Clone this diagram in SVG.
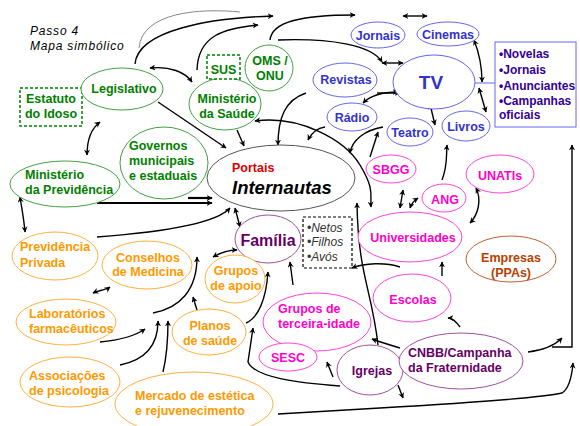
<svg xmlns="http://www.w3.org/2000/svg" width="580" height="426" viewBox="0 0 580 426">
<defs>
<marker id="ah" viewBox="0 0 10 10" refX="9" refY="5" markerWidth="6" markerHeight="6" orient="auto-start-reverse" markerUnits="userSpaceOnUse">
<path d="M0,0 L10,5 L0,10 L3,5 z" fill="#000"/>
</marker>
<style>
text{font-family:"Liberation Sans",Arial,sans-serif;font-weight:bold;font-size:12.5px}
.c{fill:none;stroke:#000;stroke-width:1.4}
.e{marker-end:url(#ah)}
.d{marker-start:url(#ah);marker-end:url(#ah)}
.g ellipse{fill:#fff;stroke:#44a044}
.g text{fill:#008000}
.b ellipse{fill:#fff;stroke:#6666ee}
.b text{fill:#3333cc}
.o ellipse{fill:#fff;stroke:#ffb040}
.o text{fill:#ff9900}
.m ellipse{fill:#fff;stroke:#ff44dd}
.m text{fill:#ff00cc}
.p ellipse{fill:#fff;stroke:#a050a0}
.p text{fill:#660066}
.mid{text-anchor:middle}
.it{font-weight:normal;font-style:italic;font-size:12px}
</style>
</defs>
<rect width="580" height="426" fill="#fff"/>
<g id="title">
<text x="30" y="35" class="it" style="letter-spacing:0.8px" fill="#000">Passo 4</text>
<text x="30" y="50" class="it" style="letter-spacing:0.8px" fill="#000">Mapa simbólico</text>
</g>
<g id="connectors">
<path class="c" d="M139,48 C142,12 200,8 240,12" style="stroke:#888;stroke-width:1"/>
<path class="c e" d="M135,64 C138,30 210,18 273,16"/>
<path class="c e" d="M197,70 C198,35 225,28 258,25"/>
<path class="c d" d="M150,68 C170,66 185,72 192,82"/>
<path class="c e" d="M270,40 C272,22 300,15 355,15"/>
<path class="c e" d="M278,40 C330,38 372,45 382,62"/>
<path class="c d" d="M382,63 L403,63"/>
<path class="c d" d="M403,16 L427,16"/>
<path class="c e" d="M377,93 L400,93"/>
<path class="c d" d="M363,103 C372,94 385,92 398,92"/>
<path class="c d" d="M474,40 C480,55 482,70 482,82"/>
<path class="c d" d="M479,88 L486,112"/>
<path d="M475,83 L495,83" stroke="#6666ee" stroke-width="1" fill="none"/>
<path class="c d" d="M430,104 L435,125"/>
<path class="c e" d="M158,102 L226,148"/>
<path class="c e" d="M237,130 L244,146"/>
<path class="c e" d="M306,93 C285,100 278,118 278,145"/>
<path class="c e" d="M325,127 C318,128 312,132 308,140"/>
<path class="c e" d="M383,127 C365,130 352,140 350,153"/>
<path class="c e" d="M370,157 L378,132"/>
<path class="c d" d="M255,121 C300,115 345,140 360,165 S370,195 371,207"/>
<path class="c e" d="M97,203 L212,203" style="stroke-width:2.2"/>
<path class="c e" d="M188,198 L212,198" style="stroke-width:2.2"/>
<path class="c e" d="M97,237 C150,233 215,225 230,208"/>
<path class="c d" d="M235,208 L240,227"/>
<path class="c d" d="M213,257 C220,253 230,250 237,250"/>
<path class="c e" d="M340,386 C300,383 255,378 248,362 L253,328"/>
<path class="c e" d="M246,323 C258,318 266,300 268,272"/>
<path class="c e" d="M293,285 L290,262"/>
<path class="c e" d="M378,345 C372,290 358,275 357,203"/>
<path class="c e" d="M400,267 C385,262 365,263 352,268"/>
<path class="c e" d="M400,348 C390,345 380,342 372,339"/>
<path class="c e" d="M442,180 C448,165 446,155 447,145"/>
<path class="c d" d="M403,190 L400,208"/>
<path class="c d" d="M410,208 C412,202 415,200 418,198"/>
<path class="c d" d="M476,188 C482,200 478,215 470,223"/>
<path class="c e" d="M442,276 L442,262"/>
<path class="c e" d="M460,327 C455,320 452,318 448,318"/>
<path class="c e" d="M398,385 L403,398"/>
<path class="c e" d="M333,377 L327,362"/>
<path class="c e" d="M197,310 L193,297"/>
<path class="c e" d="M153,313 C180,308 197,290 197,257"/>
<path class="c e" d="M120,365 C145,360 158,345 158,321"/>
<path class="c e" d="M163,372 C167,355 168,340 168,321"/>
<path class="c e" d="M100,342 C120,340 135,336 145,329"/>
<path class="c d" d="M93,293 C100,290 106,290 110,287"/>
<path class="c d" d="M20,197 C22,210 24,220 25,232"/>
<path class="c d" d="M100,122 C92,128 87,140 87,155"/>
<path class="c e" d="M528,352 C545,350 555,345 562,338"/>
<path class="c e" d="M552,347 L572,347 L572,145"/>
<path class="c e" d="M278,414 L380,408 C450,404 540,398 562,393 C570,388 572,375 573,363"/>
</g>
<g id="estatuto" class="g">
<rect x="20" y="88" width="62" height="38" fill="#fff" stroke="#008000" stroke-width="1.5" stroke-dasharray="3,2"/>
<text x="51" y="103" class="mid">Estatuto</text>
<text x="51" y="118" class="mid">do Idoso</text>
</g>
<g id="legislativo" class="g">
<ellipse cx="122" cy="89" rx="41" ry="21"/>
<text x="124" y="93" class="mid">Legislativo</text>
</g>
<g id="ministerio-saude" class="g">
<ellipse cx="225" cy="104" rx="36" ry="26"/>
<text x="227" y="103" class="mid">Ministério</text>
<text x="227" y="118" class="mid">da Saúde</text>
</g>
<g id="sus" class="g">
<rect x="207" y="55" width="33" height="24" fill="#fff" stroke="#008000" stroke-width="1.5" stroke-dasharray="3,2"/>
<text x="223.5" y="74" class="mid">SUS</text>
</g>
<g id="oms" class="g">
<ellipse cx="269" cy="68" rx="24" ry="23"/>
<text x="270" y="65" class="mid">OMS /</text>
<text x="270" y="80" class="mid">ONU</text>
</g>
<g id="governos" class="g">
<ellipse cx="164" cy="163" rx="44" ry="36"/>
<text x="129" y="150">Governos</text>
<text x="129" y="165">municipais</text>
<text x="129" y="180">e estaduais</text>
</g>
<g id="ministerio-previdencia" class="g">
<ellipse cx="65" cy="184" rx="55" ry="23"/>
<text x="25" y="179">Ministério</text>
<text x="25" y="194">da Previdência</text>
</g>
<g id="internautas">
<ellipse cx="281" cy="178" rx="74" ry="33" fill="#fff" stroke="#555" stroke-width="1"/>
<text x="232" y="172" fill="#dd0000" style="font-size:12.5px">Portais</text>
<text x="232" y="194" fill="#000" style="font-style:italic;font-size:18.5px">Internautas</text>
</g>
<g id="familia" class="p">
<ellipse cx="268" cy="239" rx="33" ry="24"/>
<text x="268" y="246" class="mid" style="font-size:16px">Família</text>
</g>
<g id="netos">
<rect x="303" y="217" width="49" height="51" fill="#fff" stroke="#000" stroke-width="1.2" stroke-dasharray="3,2"/>
<text x="307" y="232" fill="#333" class="it">•Netos</text>
<text x="307" y="246" fill="#333" class="it">•Filhos</text>
<text x="307" y="261" fill="#333" class="it">•Avós</text>
</g>
<g id="previdencia-privada" class="o">
<ellipse cx="55" cy="256" rx="43" ry="24"/>
<text x="20" y="251">Previdência</text>
<text x="20" y="267">Privada</text>
</g>
<g id="conselhos" class="o">
<ellipse cx="147" cy="265" rx="45" ry="24"/>
<text x="148" y="262" class="mid">Conselhos</text>
<text x="148" y="276" class="mid">de Medicina</text>
</g>
<g id="grupos-apoio" class="o">
<ellipse cx="235" cy="279" rx="30" ry="24"/>
<text x="236" y="275" class="mid">Grupos</text>
<text x="236" y="290" class="mid">de apoio</text>
</g>
<g id="laboratorios" class="o">
<ellipse cx="66" cy="322" rx="50" ry="23"/>
<text x="29" y="318">Laboratórios</text>
<text x="29" y="333">farmacêuticos</text>
</g>
<g id="associacoes" class="o">
<ellipse cx="70" cy="382" rx="50" ry="25"/>
<text x="29" y="380">Associações</text>
<text x="29" y="395">de psicologia</text>
</g>
<g id="mercado" class="o">
<ellipse cx="194" cy="404" rx="79" ry="32"/>
<text x="135" y="400">Mercado de estética</text>
<text x="135" y="415">e rejuvenecimento</text>
</g>
<g id="planos" class="o">
<ellipse cx="209" cy="332" rx="37" ry="23"/>
<text x="210" y="330" class="mid">Planos</text>
<text x="210" y="345" class="mid">de saúde</text>
</g>
<g id="terceira-idade" class="m">
<ellipse cx="317" cy="322" rx="54" ry="29"/>
<text x="278" y="313">Grupos de</text>
<text x="278" y="328">terceira-idade</text>
</g>
<g id="sesc" class="m">
<ellipse cx="288" cy="357" rx="29" ry="14"/>
<text x="288" y="362" class="mid">SESC</text>
</g>
<g id="igrejas" class="p">
<ellipse cx="370" cy="370" rx="33" ry="25"/>
<text x="372" y="375" class="mid">Igrejas</text>
</g>
<g id="cnbb" class="p">
<ellipse cx="461" cy="361" rx="62" ry="28"/>
<text x="408" y="357">CNBB/Campanha</text>
<text x="408" y="372">da Fraternidade</text>
</g>
<g id="escolas" class="m">
<ellipse cx="412" cy="298" rx="39" ry="24"/>
<text x="413" y="304" class="mid">Escolas</text>
</g>
<g id="universidades" class="m">
<ellipse cx="410" cy="237" rx="52" ry="25"/>
<text x="413" y="242" class="mid">Universidades</text>
</g>
<g id="sbgg" class="m">
<ellipse cx="391" cy="169" rx="25" ry="14"/>
<text x="391" y="174" class="mid">SBGG</text>
</g>
<g id="ang" class="m">
<ellipse cx="444" cy="198" rx="22" ry="14"/>
<text x="445" y="204" class="mid">ANG</text>
</g>
<g id="unatis" class="m">
<ellipse cx="500" cy="174" rx="34" ry="19"/>
<text x="500" y="180" class="mid">UNATIs</text>
</g>
<g id="empresas">
<ellipse cx="511" cy="259" rx="45" ry="23" fill="#fff" stroke="#c06030"/>
<text x="511" y="262" class="mid" fill="#b84000">Empresas</text>
<text x="511" y="277" class="mid" fill="#b84000">(PPAs)</text>
</g>
<g id="revistas" class="b">
<ellipse cx="345" cy="80" rx="32" ry="17"/>
<text x="346" y="84" class="mid">Revistas</text>
</g>
<g id="jornais" class="b">
<ellipse cx="378" cy="35" rx="27" ry="13"/>
<text x="378" y="40" class="mid">Jornais</text>
</g>
<g id="cinemas" class="b">
<ellipse cx="448" cy="34" rx="31" ry="12"/>
<text x="448" y="39" class="mid">Cinemas</text>
</g>
<g id="tv" class="b">
<ellipse cx="434" cy="82" rx="41" ry="27"/>
<text x="431" y="89" class="mid" style="font-size:19px">TV</text>
</g>
<g id="radio" class="b">
<ellipse cx="352" cy="117" rx="25" ry="14"/>
<text x="352" y="122" class="mid">Rádio</text>
</g>
<g id="teatro" class="b">
<ellipse cx="410" cy="132" rx="23" ry="14"/>
<text x="410" y="137" class="mid">Teatro</text>
</g>
<g id="livros" class="b">
<ellipse cx="466" cy="126" rx="24" ry="15"/>
<text x="466" y="131" class="mid">Livros</text>
</g>
<g id="midia-box">
<rect x="495" y="42" width="81" height="85" fill="#fff" stroke="#6666ee"/>
<text x="499" y="58" fill="#330099" style="font-size:12px">•Novelas</text>
<text x="499" y="74" fill="#330099" style="font-size:12px">•Jornais</text>
<text x="499" y="90" fill="#330099" style="font-size:12px">•Anunciantes</text>
<text x="499" y="105" fill="#330099" style="font-size:12px">•Campanhas</text>
<text x="499" y="119" fill="#330099" style="font-size:12px">oficiais</text>
</g>
</svg>
